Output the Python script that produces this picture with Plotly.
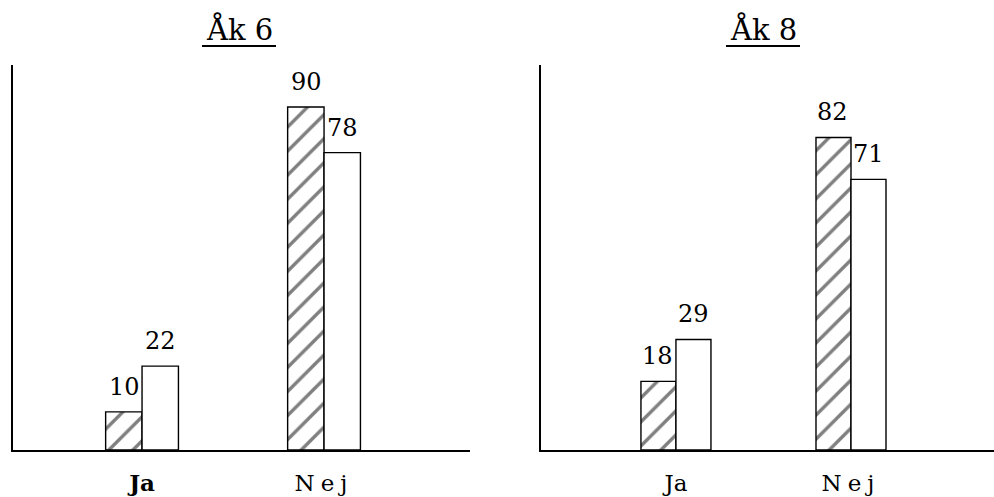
import plotly.graph_objects as go
from plotly.subplots import make_subplots

# Data (percent)
categories = ["Ja", "Nej"]
tick_labels_6 = ["<b>Ja</b>", '<span style="letter-spacing:6px">Nej</span>']
tick_labels_8 = ["Ja", '<span style="letter-spacing:6px">Nej</span>']
ak6_hatched = [10, 90]
ak6_open = [22, 78]
ak8_hatched = [18, 82]
ak8_open = [29, 71]
titles = ["Åk 6", "Åk 8"]

FONT = "DejaVu Serif"
W, H = 994, 497

fig = make_subplots(rows=1, cols=2)

panels = [(ak6_hatched, ak6_open, 1), (ak8_hatched, ak8_open, 2)]
for hatched, open_, col in panels:
    fig.add_trace(go.Bar(
        x=categories, y=hatched,
        marker=dict(color="white",
                    line=dict(color="black", width=1.4),
                    pattern=dict(shape="/", fgcolor="black", bgcolor="white",
                                 size=17, solidity=0.2)),
        showlegend=False,
    ), row=1, col=col)
    fig.add_trace(go.Bar(
        x=categories, y=open_,
        marker=dict(color="white", line=dict(color="black", width=1.4)),
        showlegend=False,
    ), row=1, col=col)

    # value labels above the bars
    xref = "x" if col == 1 else "x2"
    yref = "y" if col == 1 else "y2"
    for vals, shift in ((hatched, -18), (open_, 18)):
        for cat, v in zip(categories, vals):
            fig.add_annotation(x=cat, y=v, xref=xref, yref=yref, text=str(v),
                               showarrow=False, yanchor="bottom",
                               xshift=shift, yshift=9,
                               font=dict(family=FONT, size=24, color="black"))

axis_style = dict(showline=True, linecolor="black", linewidth=1.5,
                  showgrid=False, zeroline=False, ticks="")
fig.update_xaxes(**axis_style, tickfont=dict(family=FONT, size=23, color="black"),
                 ticklabelstandoff=12)
fig.update_yaxes(**axis_style, showticklabels=False, range=[0, 101])

dom_y = [(H - 450) / H, (H - 65) / H]
fig.update_layout(
    width=W, height=H,
    margin=dict(l=0, r=0, t=0, b=0),
    plot_bgcolor="white", paper_bgcolor="white",
    barmode="group", bargap=0.6, bargroupgap=0,
    xaxis=dict(domain=[13 / W, 470 / W], range=[-0.709, 1.802],
               tickvals=categories, ticktext=tick_labels_6),
    xaxis2=dict(domain=[541 / W, 1.0], range=[-0.771, 1.817],
                tickvals=categories, ticktext=tick_labels_8),
    yaxis=dict(domain=dom_y),
    yaxis2=dict(domain=dom_y),
)

# Panel titles, underlined
for x_px, title in zip([239, 763], titles):
    fig.add_annotation(x=x_px / W, y=1 - 29 / H, xref="paper", yref="paper",
                       text=title, showarrow=False,
                       xanchor="center", yanchor="middle",
                       font=dict(family=FONT, size=29, color="black"))
    fig.add_shape(type="line", xref="paper", yref="paper",
                  x0=(x_px - 37) / W, x1=(x_px + 37) / W,
                  y0=1 - 46 / H, y1=1 - 46 / H,
                  line=dict(color="black", width=2))

# drop the default 8px body margin so the figure fills the window exactly
fig.write_html("out.html", config={"displayModeBar": False},
               post_script="document.body.style.margin='0';")
